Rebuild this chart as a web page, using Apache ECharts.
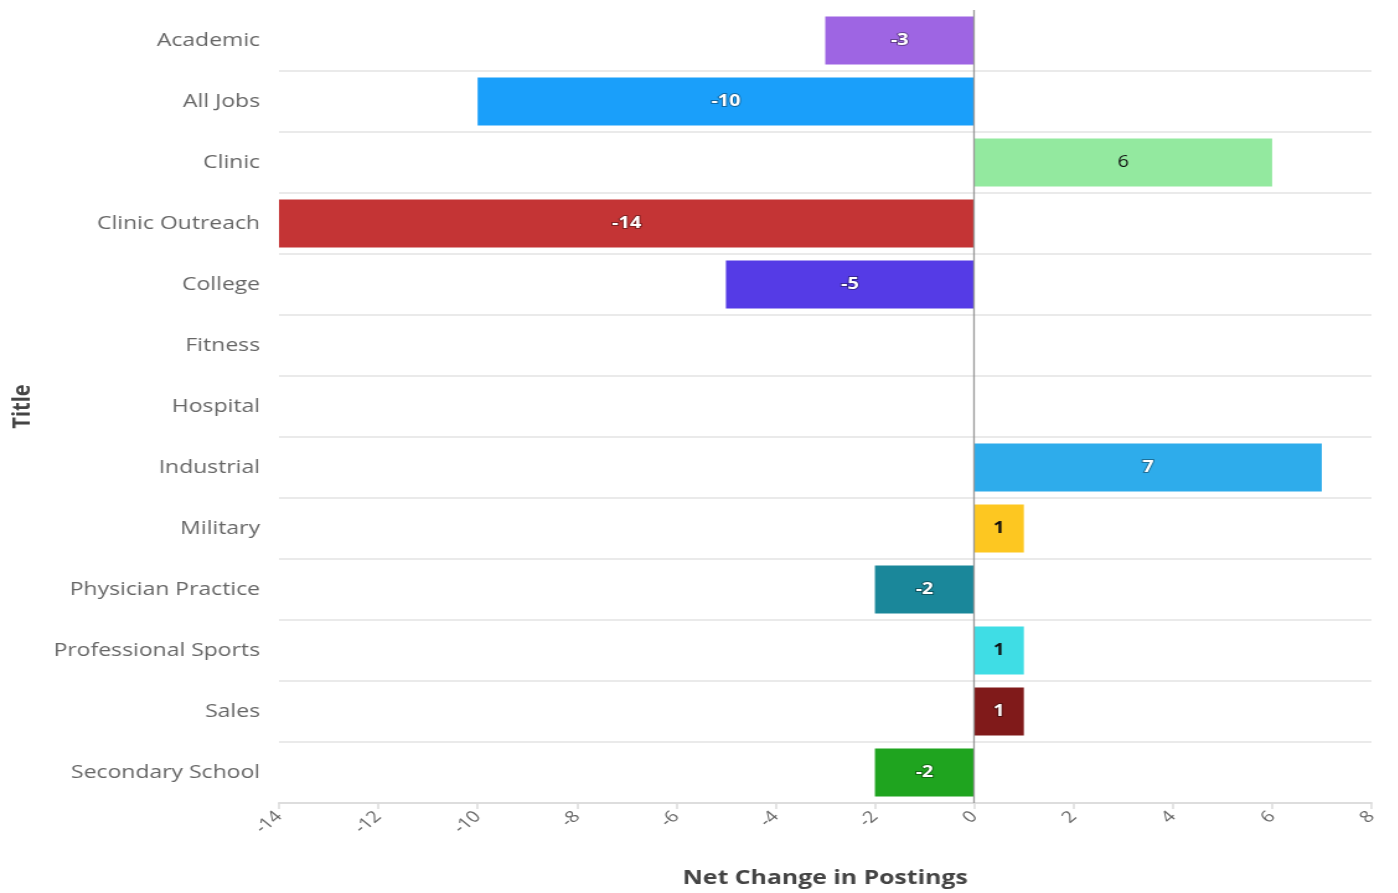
<!DOCTYPE html>
<html>
<head>
<meta charset="utf-8">
<script src="https://cdn.jsdelivr.net/npm/echarts@6/dist/echarts.min.js"></script>
<style>
html,body{margin:0;padding:0;background:#fff;overflow:hidden;}
#wrap{width:1398px;height:893px;overflow:hidden;}
#chart{width:1127.4px;height:893px;transform:scaleX(1.24);transform-origin:0 0;}
</style>
</head>
<body>
<div id="wrap"><div id="chart"></div></div>
<script>
const categories = ["Academic","All Jobs","Clinic","Clinic Outreach","College","Fitness","Hospital","Industrial","Military","Physician Practice","Professional Sports","Sales","Secondary School"];
const values = [-3,-10,6,-14,-5,0,0,7,1,-2,1,1,-2];
const barColors = ["#9e65e3","#1a9ffa","#93e99f","#c43435","#553be6","#888888","#888888","#2eaceb","#fdc721","#1a879a","#3fdde5","#801a1a","#1fa41f"];
const darkLabel = [false,false,true,false,false,false,false,false,true,false,true,false,false];
const xTicks = {min:-14,max:8,interval:2};

const fontFam = '"Open Sans", "Noto Sans", sans-serif';

const seriesData = values.map((v,i)=>({
  value:v,
  itemStyle:{color:barColors[i]},
  label:{
    show: v!==0,
    color: darkLabel[i] ? '#111' : '#fff',
    fontWeight: (i===2) ? 'normal' : 'bold',
    textBorderColor: darkLabel[i] ? 'transparent' : 'rgba(0,0,0,0.35)',
    textBorderWidth: darkLabel[i] ? 0 : 2
  }
}));

const chart = echarts.init(document.getElementById('chart'));
chart.setOption({
  animation:false,
  grid:{left:221.8,right:21,top:10,bottom:78,containLabel:false},
  xAxis:{
    type:'value',
    min:xTicks.min,max:xTicks.max,interval:xTicks.interval,
    name:'Net Change in Postings',
    nameLocation:'middle',
    nameGap:65,
    nameTextStyle:{fontFamily:fontFam,fontWeight:'bold',fontSize:20,color:'#444'},
    axisLine:{show:true,lineStyle:{color:'#dddddd',width:2}},
    axisTick:{show:true,length:6,lineStyle:{color:'#dddddd',width:1.6}},
    axisLabel:{rotate:45,color:'#666',fontSize:16,fontFamily:fontFam,margin:11},
    splitLine:{show:false}
  },
  yAxis:{
    type:'category',
    data:categories,
    inverse:true,
    name:'Title',
    nameLocation:'middle',
    nameGap:197,
    nameRotate:90,
    nameTextStyle:{fontFamily:fontFam,fontWeight:'bold',fontSize:20,color:'#444'},
    axisLine:{show:false},
    axisTick:{show:false},
    axisLabel:{color:'#666',fontSize:18.5,fontFamily:fontFam,margin:15.3},
    splitLine:{show:true,interval:function(i){return i!==0;},lineStyle:{color:'#eaeaea',width:2}}
  },
  series:[{
    type:'bar',
    data:seriesData,
    barWidth:'79%',
    label:{show:true,position:'inside',fontSize:16,fontFamily:fontFam},
    markLine:{
      silent:true,
      symbol:['none','none'],
      label:{show:false},
      lineStyle:{color:'#999',width:1.3,type:'solid'},
      data:[{xAxis:0}]
    }
  }]
});
</script>
</body>
</html>
